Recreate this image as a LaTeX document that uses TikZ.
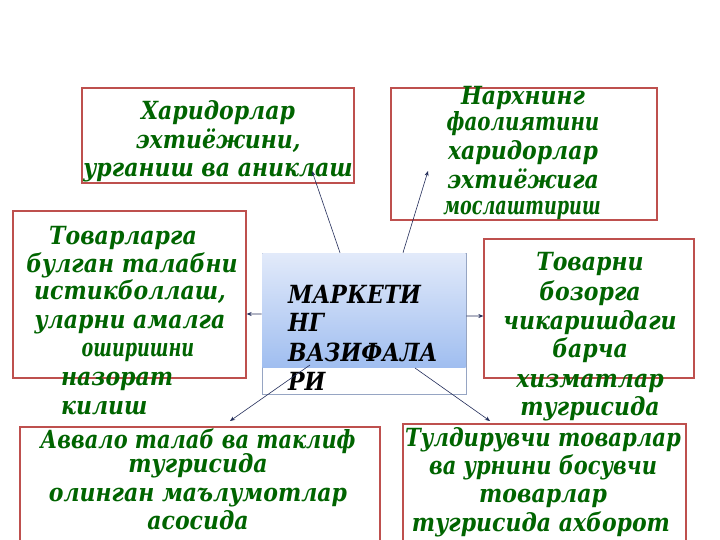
\documentclass[tikz,border=0pt]{standalone}
\usepackage{fontspec}
\setmainfont{DejaVu Serif}[FakeStretch=0.88]
\usetikzlibrary{arrows.meta}
\definecolor{boxred}{RGB}{190,80,78}
\definecolor{txtgreen}{RGB}{0,100,0}
\definecolor{arrowc}{RGB}{35,45,90}
\definecolor{cbord}{RGB}{150,165,195}
\definecolor{ctop}{RGB}{226,234,250}
\definecolor{cbot}{RGB}{160,190,240}
\begin{document}
\begin{tikzpicture}[x=1bp,y=-1bp,
  box/.style={draw=boxred, line width=1.3bp, inner sep=0pt, rectangle},
  gl/.style={text=txtgreen, font=\fontsize{25bp}{29bp}\selectfont\bfseries\itshape, anchor=base, inner sep=0pt},
  gw/.style={gl, anchor=base west},
  bl/.style={text=black, font=\fontsize{25bp}{29bp}\selectfont\bfseries\itshape, anchor=base west, inner sep=0pt},
  arr/.style={draw=arrowc, line width=0.6bp, -{Stealth[length=5bp,width=4bp]}}]
\useasboundingbox (0,0) rectangle (720,540);
\fill[white] (0,0) rectangle (720,540);
\begin{scope}
\clip (0,0) rectangle (720,540);
% boxes
\node[box, minimum width=272bp, minimum height=95bp] (b1) at (218,135.5) {};
\node[box, minimum width=266bp, minimum height=132bp] (b2) at (524,154) {};
\node[box, minimum width=233bp, minimum height=167bp] (b3) at (129.5,294.5) {};
\node[box, minimum width=210bp, minimum height=139bp] (b4) at (589,308.5) {};
\node[box, minimum width=360bp, minimum height=124bp] (b5) at (200,489) {};
\node[box, minimum width=283bp, minimum height=127bp] (b6) at (544.5,487.5) {};
% centre box
\node[draw=cbord, line width=0.6bp, minimum width=204bp, minimum height=141bp, inner sep=0pt] (cb) at (364,323.5) {};
\shade[top color=ctop, bottom color=cbot] (262.3,253.3) rectangle (465.7,367);
\end{scope}
% texts box 1
\node[gl] (t1a) at (218,120) {Харидорлар};
\node[gl] (t1b) at (218,149) {эхтиёжини,};
\node[gl] (t1c) at (218,177) {урганиш ва аниклаш};
% box 2
\node[gl] (t2a) at (523,105) {Нархнинг};
\node[gl] (t2b) at (523,131) {\scalebox{0.9}[1]{фаолиятини}};
\node[gl] (t2c) at (523,160) {харидорлар};
\node[gl] (t2d) at (523,189) {эхтиёжига};
\node[gl] (t2e) at (522,215) {\scalebox{0.8}[1]{мослаштириш}};
% box 3
\node[gl] (t3a) at (123,245) {Товарларга};
\node[gl] (t3b) at (132,273) {булган талабни};
\node[gl] (t3c) at (130,299) {истикболлаш,};
\node[gl] (t3d) at (130,328) {уларни амалга};
\node[gl] (t3e) at (138,356) {\scalebox{0.8}[1]{оширишни}};
\node[gw] (t3f) at (61,385) {назорат};
\node[gw] (t3g) at (61,414) {килиш};
% box 4
\node[gl] (t4a) at (590,271) {Товарни};
\node[gl] (t4b) at (590,300) {бозорга};
\node[gl] (t4c) at (590,329) {чикаришдаги};
\node[gl] (t4d) at (590,357) {барча};
\node[gl] (t4e) at (590,387) {хизматлар};
\node[gl] (t4f) at (590,415) {тугрисида};
% centre
\node[bl] (c1) at (288,303) {МАРКЕТИ};
\node[bl] (c2) at (288,331) {НГ};
\node[bl] (c3) at (288,361) {ВАЗИФАЛА};
\node[bl] (c4) at (288,390) {РИ};
% box 5
\node[gl] (t5a) at (198,448) {\scalebox{0.95}[1]{Аввало талаб ва таклиф}};
\node[gl] (t5b) at (198,472) {тугрисида};
\node[gl] (t5c) at (198,501) {олинган маълумотлар};
\node[gl] (t5d) at (198,529) {асосида};
% box 6
\node[gl] (t6a) at (543,446) {\scalebox{0.96}[1]{Тулдирувчи товарлар}};
\node[gl] (t6b) at (543,474) {\scalebox{0.95}[1]{ва урнини босувчи}};
\node[gl] (t6c) at (543,502) {товарлар};
\node[gl] (t6d) at (541,531) {тугрисида ахборот};
% connectors
\coordinate (e1) at (312,171);
\coordinate (e2) at (428,171);
\coordinate (e5) at (230,421);
\coordinate (e6) at (490,421);
\draw[arr] ([xshift=-24bp]cb.north) -- (e1);
\draw[arr] ([xshift=39bp]cb.north) -- (e2);
\draw[arr] ([yshift=9.5bp]cb.west) -- ([yshift=-19.5bp]b3.east);
\draw[arr] ([yshift=7.5bp]cb.east) -- ([yshift=-7.5bp]b4.west);
\draw[arr] (310,365) -- (e5);
\draw[arr] (415,368) -- (e6);
\end{tikzpicture}
\end{document}
